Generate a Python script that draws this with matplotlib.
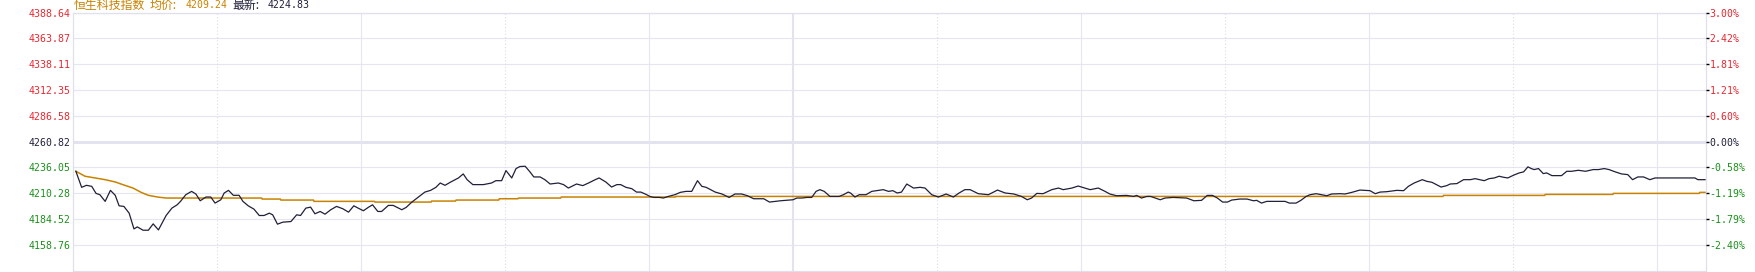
import matplotlib
matplotlib.use("Agg")
import matplotlib.pyplot as plt

# 恒生科技指数 分时数据 (分钟序号 0 = 09:30, 150 = 12:00/13:00, 340 = 16:10)
minutos = [0.6, 1.8, 2.8, 3.9, 4.8, 5.6, 6.7, 7.8, 8.8, 9.6, 10.6, 11.7, 12.7, 13.4, 14.6, 15.7,
           16.7, 17.8, 19.4, 20.6, 21.7, 22.4, 23.5, 24.7, 25.6, 26.5, 27.7, 28.7, 29.6, 30.8,
           31.5, 32.4, 33.4, 34.6, 35.4, 36.5, 37.7, 38.8, 39.8, 40.9, 41.6, 42.6, 43.7, 45.4,
           46.6, 47.4, 48.5, 49.5, 50.4, 51.5, 52.5, 53.7, 54.9, 56.2, 57.4, 58.5, 59.4, 60.5,
           61.5, 62.4, 63.5, 64.3, 65.7, 66.7, 68.5, 69.4, 70.6, 71.7, 73.3, 74.5, 75.6, 76.5,
           77.5, 78.7, 80.3, 81.3, 82.1, 83.3, 85.5, 87.2, 88.1, 89.3, 90.2, 91.4, 92.3, 93.1,
           94.2, 95.2, 96.0, 97.3, 98.3, 99.4, 101.1, 102.2, 103.2, 104.9, 106.2, 107.4, 108.8,
           109.6, 111.0, 112.2, 113.3, 114.1, 115.2, 116.4, 117.4, 118.3, 119.2, 120.2, 121.0,
           122.2, 123.0, 124.0, 125.4, 126.5, 127.7, 128.9, 130.1, 131.0, 131.9, 133.8, 135.2,
           136.7, 137.9, 139.3, 140.5, 141.8, 143.9, 145.1, 146.3, 147.4, 150.0, 150.8, 151.8,
           152.9, 153.9, 154.8, 155.6, 156.5, 157.7, 159.6, 160.5, 161.5, 162.0, 162.9, 163.8,
           165.2, 166.4, 167.4, 168.8, 169.9, 170.8, 171.7, 172.6, 173.7, 175.1, 176.5, 177.5,
           178.9, 180.3, 181.9, 183.4, 184.6, 185.8, 186.9, 188.6, 190.7, 192.6, 194.2, 196.0,
           197.6, 198.8, 199.7, 200.8, 202.1, 203.9, 205.3, 206.3, 208.1, 209.4, 210.8, 211.9,
           213.6, 215.0, 216.0, 217.4, 219.5, 220.9, 221.6, 222.6, 223.7, 224.5, 226.5, 227.5,
           229.2, 232.0, 233.5, 235.1, 236.3, 237.4, 238.4, 239.5, 240.5, 241.4, 243.1, 244.6,
           245.9, 246.6, 247.6, 248.7, 249.9, 252.5, 253.4, 254.8, 255.8, 256.9, 257.7, 259.0,
           260.1, 261.2, 262.2, 264.0, 265.0, 266.4, 268.1, 270.2, 271.3, 272.3, 273.7, 275.8,
           277.2, 278.2, 279.4, 281.1, 282.0, 283.1, 285.0, 286.2, 286.9, 288.3, 289.7, 291.1,
           292.1, 293.1, 294.0, 295.0, 296.1, 297.1, 298.0, 298.9, 300.1, 301.3, 302.2, 303.1,
           303.8, 304.4, 305.3, 306.3, 307.0, 308.1, 310.1, 311.2, 312.2, 313.6, 315.1, 316.7,
           317.8, 319.0, 320.0, 321.3, 322.6, 323.9, 324.9, 326.0, 327.2, 328.5, 329.6, 337.9,
           338.5, 340.0]
precos = [4231.8, 4215.9, 4217.9, 4216.9, 4209.9, 4208.6, 4202.0, 4212.9, 4208.0, 4197.6, 4197.0,
          4190.3, 4174.7, 4176.7, 4173.4, 4173.4, 4179.7, 4173.7, 4188.0, 4195.3, 4198.6, 4202.0,
          4208.6, 4211.9, 4209.3, 4202.6, 4206.3, 4206.3, 4200.3, 4203.6, 4210.3, 4212.9, 4208.0,
          4208.0, 4202.0, 4197.6, 4194.3, 4188.0, 4188.0, 4190.3, 4188.7, 4179.4, 4181.4, 4182.0,
          4188.7, 4188.0, 4195.3, 4196.3, 4189.7, 4192.0, 4189.3, 4193.7, 4197.0, 4194.7, 4191.3,
          4197.6, 4195.3, 4192.7, 4196.0, 4198.6, 4192.0, 4192.0, 4198.0, 4198.0, 4193.7, 4196.0,
          4201.3, 4205.3, 4211.2, 4212.9, 4215.9, 4220.2, 4217.9, 4221.2, 4225.2, 4229.2, 4223.5,
          4218.6, 4218.6, 4220.2, 4222.5, 4222.5, 4232.5, 4225.2, 4234.5, 4236.5, 4236.8, 4231.2,
          4226.2, 4226.2, 4223.5, 4219.2, 4220.2, 4218.6, 4215.2, 4219.2, 4217.6, 4220.2, 4223.5,
          4225.2, 4221.2, 4216.2, 4218.6, 4218.6, 4215.9, 4214.6, 4211.2, 4211.2, 4209.3, 4206.9,
          4205.9, 4205.9, 4205.3, 4206.9, 4208.6, 4210.9, 4211.9, 4211.9, 4222.5, 4216.9, 4215.9,
          4211.2, 4209.3, 4205.9, 4209.3, 4209.3, 4207.6, 4204.6, 4204.6, 4201.3, 4202.0, 4202.6,
          4203.6, 4205.3, 4205.3, 4205.9, 4205.9, 4211.9, 4213.6, 4211.9, 4206.9, 4206.9, 4208.6,
          4211.2, 4210.2, 4206.3, 4208.6, 4208.6, 4211.9, 4212.6, 4213.6, 4211.9, 4212.6, 4210.3,
          4211.2, 4219.2, 4215.2, 4215.9, 4215.2, 4208.6, 4206.3, 4209.3, 4206.3, 4210.3, 4213.6,
          4213.6, 4209.6, 4208.6, 4213.2, 4210.3, 4209.3, 4206.9, 4203.6, 4205.3, 4209.9, 4209.6,
          4213.6, 4215.2, 4213.6, 4215.2, 4217.2, 4215.2, 4213.6, 4215.2, 4211.9, 4209.3, 4207.6,
          4207.9, 4206.9, 4207.9, 4205.3, 4206.9, 4206.9, 4203.6, 4205.3, 4205.9, 4205.3, 4202.6,
          4203.0, 4207.9, 4207.9, 4205.3, 4201.3, 4201.3, 4203.3, 4204.3, 4204.3, 4202.6, 4203.0,
          4200.3, 4202.0, 4202.0, 4202.0, 4200.3, 4200.3, 4203.0, 4206.9, 4208.6, 4209.6, 4208.6,
          4207.6, 4209.3, 4209.6, 4209.3, 4210.9, 4213.2, 4212.6, 4209.6, 4211.2, 4211.6, 4212.9,
          4212.6, 4216.9, 4220.2, 4223.5, 4221.9, 4220.9, 4216.2, 4217.6, 4219.2, 4219.6, 4223.5,
          4223.5, 4224.5, 4223.5, 4222.5, 4224.5, 4225.2, 4226.9, 4225.9, 4225.2, 4227.9, 4230.2,
          4231.2, 4236.2, 4234.5, 4233.5, 4234.5, 4229.5, 4230.2, 4227.5, 4227.5, 4231.8, 4231.8,
          4232.8, 4231.8, 4233.5, 4233.5, 4234.5, 4233.5, 4231.2, 4229.2, 4228.5, 4223.5, 4226.2,
          4226.2, 4223.5, 4225.2, 4225.2, 4223.5, 4223.5]

# linha do preco medio (均价)
minutos_media = [0.6, 2.5, 4.6, 6.7, 8.8, 10.8, 12.5, 14.2, 15.7, 17.6, 19.4, 39.3, 39.4, 43.2,
                 43.3, 50.1, 50.2, 62.8, 62.9, 74.6, 74.7, 79.7, 79.8, 88.7, 88.8, 92.7, 92.8,
                 101.6, 101.7, 125.5, 125.6, 285.4, 285.5, 306.6, 306.7, 320.8, 320.9, 338.8,
                 338.9, 340.0]
media = [4231.8, 4226.9, 4225.2, 4223.5, 4221.2, 4217.9, 4215.2, 4210.9, 4208.0, 4206.3, 4205.3,
         4205.3, 4204.3, 4204.3, 4203.3, 4203.3, 4202.0, 4202.0, 4201.3, 4201.3, 4202.3, 4202.3,
         4203.3, 4203.3, 4204.6, 4204.6, 4205.3, 4205.3, 4206.3, 4206.3, 4206.9, 4206.9, 4207.9,
         4207.9, 4208.9, 4208.9, 4209.9, 4209.9, 4210.9, 4210.9]

# eixos
niveis = [4388.64, 4363.87, 4338.11, 4312.35, 4286.58, 4260.82, 4236.05, 4210.28, 4184.52, 4158.76]
rotulos_esq = ["4388.64", "4363.87", "4338.11", "4312.35", "4286.58", "4260.82",
               "4236.05", "4210.28", "4184.52", "4158.76"]
rotulos_dir = ["3.00%", "2.42%", "1.81%", "1.21%", "0.60%", "0.00%",
               "-0.58%", "-1.19%", "-1.79%", "-2.40%"]
fechamento = 4260.82
titulo = "恒生科技指数"
media_txt = "4209.24"
ultimo_txt = "4224.83"

VERMELHO = "#e8262f"
VERDE = "#1a8f1a"
ESCURO = "#20203a"
LARANJA = "#c98200"
GRADE = "#e6e6f2"

W, H = 1755, 272
fig = plt.figure(figsize=(W / 100, H / 100), dpi=100)
x0, x1, yt, yb = 73, 1706, 13, 270.5
ax = fig.add_axes([x0 / W, (H - yb) / H, (x1 - x0) / W, (yb - yt) / H])
ax.set_xlim(0, 340.2)
ax.set_ylim(4133.5, 4388.64)

# grade horizontal
for v in niveis:
    if v == fechamento:
        ax.axhline(v, color="#e3e3ef", lw=2.2, zorder=1)
    else:
        ax.axhline(v, color=GRADE, lw=0.8, zorder=1)

# grade vertical: meia hora pontilhada, hora cheia solida, 12:00 grossa
for m in range(30, 340, 30):
    if m == 150:
        ax.axvline(m, color="#e3e3ef", lw=1.5, zorder=1)
    elif m in (30, 90, 180, 240, 300):
        ax.axvline(m, color="#dcdce8", lw=0.8, ls=(0, (1, 2)), zorder=1)
    else:
        ax.axvline(m, color=GRADE, lw=0.8, zorder=1)

for s in ax.spines.values():
    s.set_color("#e0e0ec")
    s.set_linewidth(0.9)

ax.plot(minutos_media, media, color=LARANJA, lw=1.1, zorder=3)
ax.plot(minutos, precos, color=ESCURO, lw=0.9, zorder=4)

cores = [VERMELHO] * 5 + [ESCURO] + [VERDE] * 4

ax.set_xticks([])
ax.set_yticks(niveis)
ax.set_yticklabels(rotulos_esq, family="DejaVu Sans Mono", fontsize=7.1)
ax.tick_params(axis="y", length=0, pad=1.5)
for lab, c in zip(ax.get_yticklabels(), cores):
    lab.set_color(c)

ax2 = ax.twinx()
ax2.set_ylim(ax.get_ylim())
ax2.set_yticks(niveis)
ax2.set_yticklabels(rotulos_dir, family="DejaVu Sans Mono", fontsize=7.1)
ax2.tick_params(axis="y", length=2, width=1, pad=0.5)
for lab, tk, c in zip(ax2.get_yticklabels(), ax2.yaxis.get_major_ticks(), cores):
    lab.set_color(c)
    tk.tick2line.set_color(c)
for s in ax2.spines.values():
    s.set_visible(False)

# cabecalho
cjk = ["Noto Sans CJK SC", "DejaVu Sans"]
yy = 1 - 5.5 / H
fig.text(74 / W, yy, titulo, family=cjk, fontsize=8.6, color=LARANJA, va="center")
fig.text(150 / W, yy, "均价:", family=cjk, fontsize=8.6, color=LARANJA, va="center")
fig.text(186 / W, yy, media_txt, family="DejaVu Sans Mono", fontsize=7.1, color=LARANJA, va="center")
fig.text(232 / W, yy, "最新:", family=cjk, fontsize=8.6, color=ESCURO, va="center")
fig.text(268 / W, yy, ultimo_txt, family="DejaVu Sans Mono", fontsize=7.1, color=ESCURO, va="center")

fig.savefig("out.png", dpi=100)
